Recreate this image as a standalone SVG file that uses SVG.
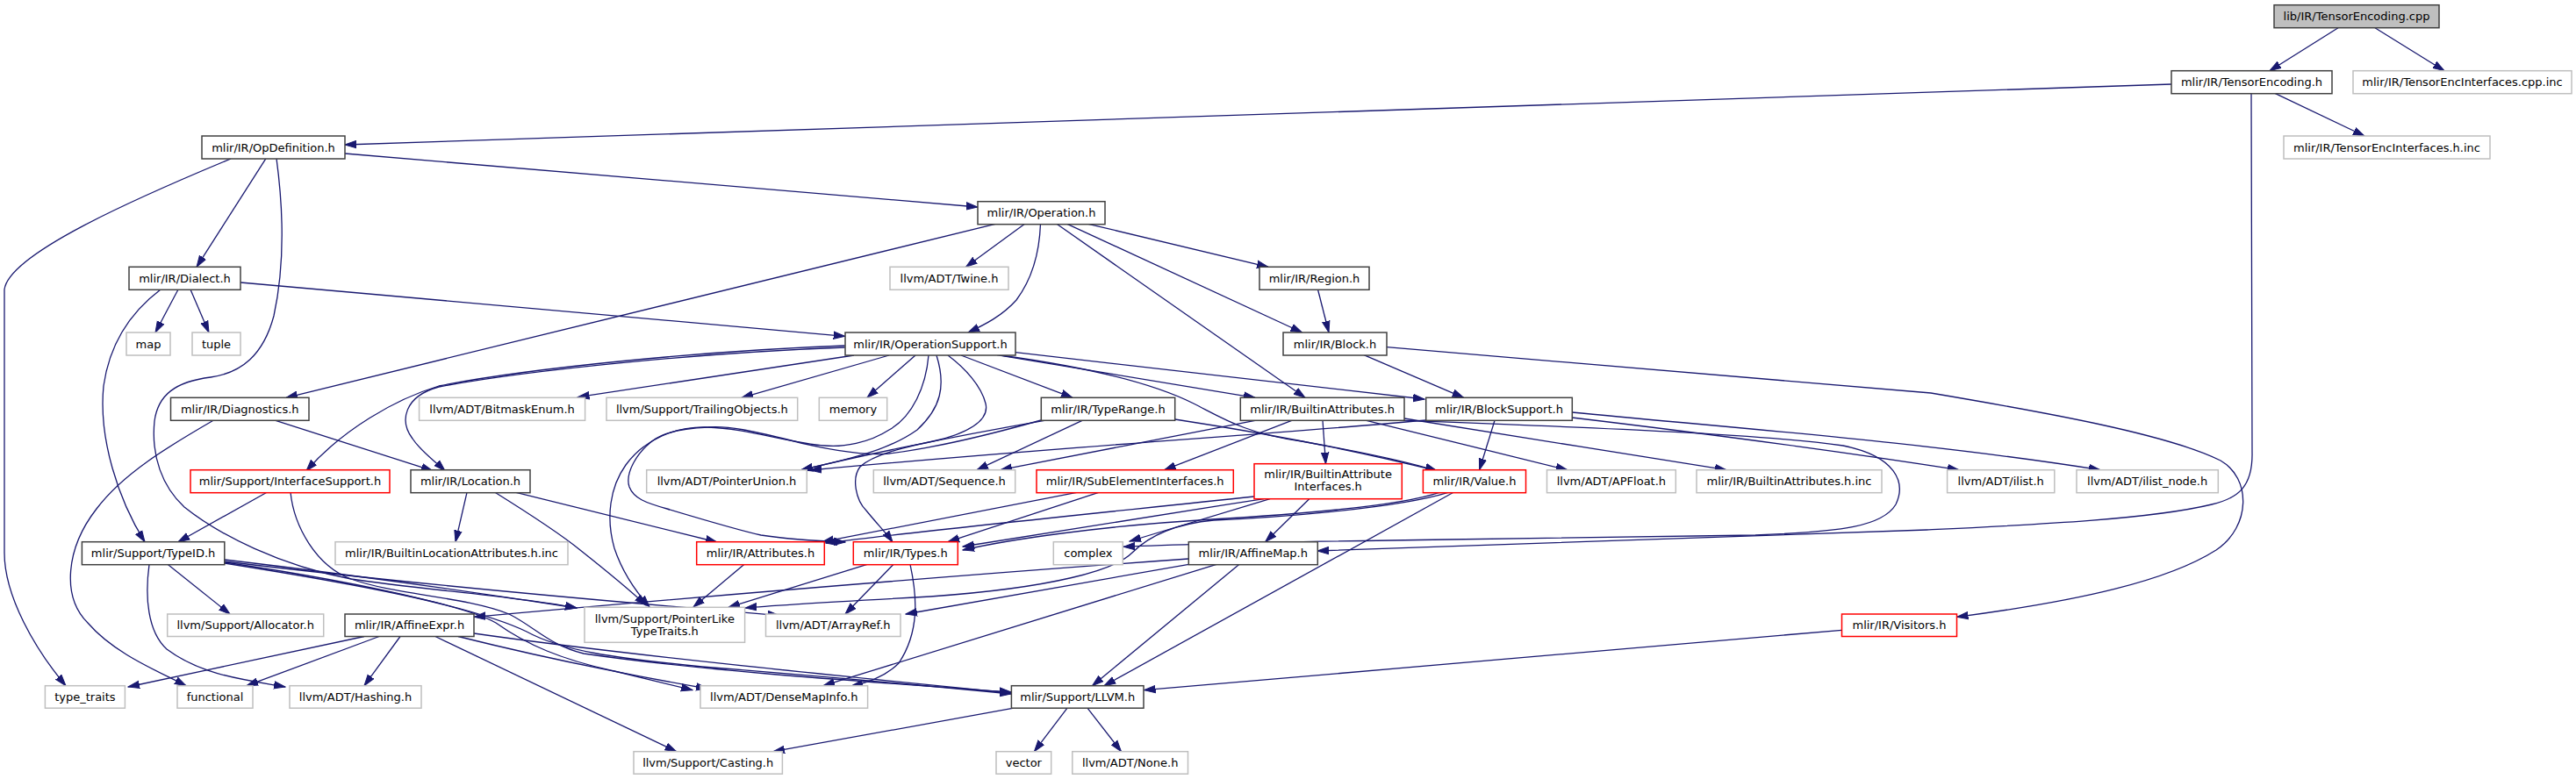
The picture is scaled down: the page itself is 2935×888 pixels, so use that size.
<svg xmlns="http://www.w3.org/2000/svg" width="2935" height="888" viewBox="0 0 2935 888">
<defs>
<marker id="a" markerWidth="14" markerHeight="10" refX="13" refY="5" orient="auto" markerUnits="userSpaceOnUse"><path d="M0,0.8 L13,5 L0,9.2 z" fill="#191970" stroke="#191970" stroke-width="1"/></marker>
</defs>
<style>
rect{fill:#fff;stroke:#404040;stroke-width:1.5}
.g rect{stroke:#bfbfbf}
.r rect{stroke:#ff0000}
.root rect{fill:#bfbfbf}
text{font-family:"DejaVu Sans",Verdana,sans-serif;font-size:13px;text-anchor:middle;fill:#000}
#edges path{fill:none;stroke:#191970;stroke-width:1.3;marker-end:url(#a)}
</style>
<rect x="0" y="0" width="2935" height="888" style="fill:#fff;stroke:none"/>
<g id="edges">
<path d="M2664,31.7 L2586,80.7"/>
<path d="M2706,31.7 L2785,80.7"/>
<path d="M2474,96 L393,165"/>
<path d="M2592,106.3 L2694,155"/>
<path d="M2565,106.3 L2566,515 C2567,555 2550,568 2520,575 C2450,592 2320,598 2195,604 L1501,628"/>
<path d="M393,175 L1114,236"/>
<path d="M303,180.7 L224,304.3"/>
<path d="M263,181 C150,228 10,290 5,330 L5,630 C5,680 40,740 75,781.7"/>
<path d="M315,180.7 C323,240 325,300 312,360 C300,405 275,425 240,430 C200,435 180,450 176,480 C172,520 185,555 210,578 C250,610 320,645 400,660 C480,672 590,680 657,693"/>
<path d="M274,322 L962.7,383.3"/>
<path d="M183,330 C150,355 125,390 118,440 C112,500 135,570 165,617.7"/>
<path d="M203,330 L177,379"/>
<path d="M217,330 L238,379"/>
<path d="M1134,255.3 L326,453.3"/>
<path d="M1167.5,255.3 L1100.5,304.3"/>
<path d="M1185.5,255.3 C1184,295 1173,322 1158,342 C1142,360 1122,370 1103,379"/>
<path d="M1240,255.3 L1445,304.3"/>
<path d="M1216,255.3 L1483.6,379"/>
<path d="M1204,255.3 L1487,453.3"/>
<path d="M1501.5,330 L1514,379"/>
<path d="M1554,404.7 L1667.7,453.3"/>
<path d="M1580,395.7 L2200,448 C2330,470 2470,495 2530,525 C2565,545 2565,600 2525,627 C2470,662 2370,685 2229.5,703.3"/>
<path d="M2098.5,718.3 L1303.5,786.7"/>
<path d="M1216,807.2 L1178.4,856.7"/>
<path d="M1239,807.2 L1277.5,856.7"/>
<path d="M1155,807.2 L881,856.7"/>
<path d="M962.7,394 C800,400 600,420 500,440 C450,455 390,490 349,536.7"/>
<path d="M962.7,396 C800,402 600,422 500,441 C460,452 455,480 470,500 C480,515 495,525 507,536.7"/>
<path d="M973,405 L658.4,452.7"/>
<path d="M1013,405 L845,453.3"/>
<path d="M1043,405 L988,453.3"/>
<path d="M1058,405 C1055,440 1040,475 1013,490 C990,505 960,510 940,508 C900,505 850,488 806,487 C770,486 735,500 713,530 C695,555 690,590 700,625 C710,655 725,675 740,691.7"/>
<path d="M1067,405 C1078,440 1072,465 1045,490 C1010,515 960,525 913,535.7"/>
<path d="M1080,405 C1100,420 1118,440 1123,460 C1128,480 1100,495 1063,503 C1030,510 995,518 980,532 C970,545 975,570 987,582 C1000,598 1010,608 1017,618"/>
<path d="M1095,405 L1222,453.3"/>
<path d="M1157,401.7 L1623,455"/>
<path d="M1136,404.7 L1430,453.3"/>
<path d="M1140,405 C1250,420 1320,440 1360,460 C1390,475 1420,495 1483,503 C1550,515 1600,525 1637,536.7"/>
<path d="M1338.7,478 C1450,495 1550,515 1637,536.7"/>
<path d="M1190,479.3 C1100,495 1000,515 913,535.7"/>
<path d="M1233,479.3 L1113,535.7"/>
<path d="M1186,479 C1140,492 1070,510 1013,517 C980,520 930,510 893,500 C860,492 830,485 807,487 C780,488 760,492 747,500 C725,515 712,540 717,555 C722,568 735,573 760,580 C800,592 840,604 867,610 C900,615 940,617 963,618"/>
<path d="M1430,479.3 L1140,535.7"/>
<path d="M1471.7,479.3 L1326.7,535.7"/>
<path d="M1507,479.3 L1510.5,528.7"/>
<path d="M1556.8,479.3 L1785.7,535.7"/>
<path d="M1600,477 L1967,535.7"/>
<path d="M1600,479.3 C1800,487 2000,494 2100,508 C2160,520 2172,550 2160,575 C2145,600 2100,606 2000,610 L1650,615 C1500,617 1350,620 1280,623.3"/>
<path d="M1703,479.3 L1685.6,535.7"/>
<path d="M1624.7,479 C1450,495 1200,510 923,536"/>
<path d="M1791,476 C1950,495 2100,515 2232,535.7"/>
<path d="M1791,470 C2000,490 2200,505 2393,535.7"/>
<path d="M1226.7,561.3 L937,617.7"/>
<path d="M1251.7,561.3 L1080,617.7"/>
<path d="M1429,566 C1250,585 1050,605 941,619"/>
<path d="M1440,568.7 C1300,590 1150,615 1097,623"/>
<path d="M1447,568.7 L1287,617"/>
<path d="M1491.7,568.7 L1441.7,617.7"/>
<path d="M1640,561.3 C1600,575 1500,585 1380,592 C1250,600 1150,615 1097,627"/>
<path d="M1650,561.3 C1590,580 1450,590 1383,593 C1340,597 1310,610 1290,630 C1270,650 1200,670 1060,680 C950,686 880,690 849,693"/>
<path d="M1656,561.3 L1258,781.7"/>
<path d="M532,561.3 L519,617.7"/>
<path d="M564,561.3 C610,590 640,610 661,627 C690,650 715,670 736,690"/>
<path d="M588,561.3 L817,618"/>
<path d="M243,479.3 C190,510 140,540 110,580 C75,625 70,680 100,710 C130,745 180,765 212,781.7"/>
<path d="M314,479.3 L493,536.7"/>
<path d="M304,561.3 L203,617.7"/>
<path d="M331,561.3 C335,600 360,645 400,660 C450,678 530,680 580,700 C610,715 625,735 665,745 C800,765 1000,778 1152,789"/>
<path d="M191,643.3 L262,700"/>
<path d="M170,643.3 C165,680 168,720 190,740 C230,770 280,775 325,783"/>
<path d="M256,638 C400,655 560,678 657,693"/>
<path d="M256,640 C420,660 650,682 888,701.6"/>
<path d="M256,641 C440,668 560,700 600,720 C640,742 700,750 800,760 C950,772 1060,782 1152,791"/>
<path d="M256,642 C420,668 530,690 565,710 C600,735 640,752 700,765 L789,786.7"/>
<path d="M415,725.5 L146,783"/>
<path d="M432,725.5 L281,781.7"/>
<path d="M456,725.5 L415,781.7"/>
<path d="M540,722 C700,745 950,770 1152,790"/>
<path d="M522,725.5 C620,750 720,770 806,785"/>
<path d="M496,725.5 L770.7,856.7"/>
<path d="M1354.3,637 C1100,655 800,680 540,703.3"/>
<path d="M1354.4,643.3 L1032,700"/>
<path d="M1386,643.3 L938,781.7"/>
<path d="M1412,643.3 L1244.5,781.7"/>
<path d="M848,643.3 L790,692"/>
<path d="M988,643.3 L830,692.3"/>
<path d="M1018,643.3 L963,700"/>
<path d="M1037,643.3 C1045,680 1048,720 1024,756 C1010,770 990,778 970,782"/>
</g>
<g id="n_cpp" class="root"><rect x="2591" y="5.7" width="188" height="26"/><text x="2685" y="23.2">lib/IR/TensorEncoding.cpp</text></g>
<g id="n_tenc"><rect x="2474" y="80.7" width="183" height="26"/><text x="2565.5" y="98.2">mlir/IR/TensorEncoding.h</text></g>
<g id="n_tecppinc" class="g"><rect x="2681" y="80.7" width="249" height="26"/><text x="2805.5" y="98.2">mlir/IR/TensorEncInterfaces.cpp.inc</text></g>
<g id="n_opdef"><rect x="230" y="155" width="163" height="26"/><text x="311.5" y="172.5">mlir/IR/OpDefinition.h</text></g>
<g id="n_tehinc" class="g"><rect x="2602" y="155" width="235" height="26"/><text x="2719.5" y="172.5">mlir/IR/TensorEncInterfaces.h.inc</text></g>
<g id="n_op"><rect x="1114" y="229.7" width="145" height="26"/><text x="1186.5" y="247.2">mlir/IR/Operation.h</text></g>
<g id="n_dialect"><rect x="147" y="304.3" width="127" height="26"/><text x="210.5" y="321.8">mlir/IR/Dialect.h</text></g>
<g id="n_twine" class="g"><rect x="1014" y="304.3" width="135" height="26"/><text x="1081.5" y="321.8">llvm/ADT/Twine.h</text></g>
<g id="n_region"><rect x="1435" y="304.3" width="125" height="26"/><text x="1497.5" y="321.8">mlir/IR/Region.h</text></g>
<g id="n_map" class="g"><rect x="144" y="379" width="50" height="26"/><text x="169" y="396.5">map</text></g>
<g id="n_tuple" class="g"><rect x="219" y="379" width="55" height="26"/><text x="246.5" y="396.5">tuple</text></g>
<g id="n_opsup"><rect x="963" y="379" width="194" height="26"/><text x="1060" y="396.5">mlir/IR/OperationSupport.h</text></g>
<g id="n_block"><rect x="1462" y="379" width="118" height="26"/><text x="1521" y="396.5">mlir/IR/Block.h</text></g>
<g id="n_diag"><rect x="194.5" y="453.3" width="157.5" height="26"/><text x="273.25" y="470.8">mlir/IR/Diagnostics.h</text></g>
<g id="n_bitmask" class="g"><rect x="477.6" y="453.3" width="189" height="26"/><text x="572.1" y="470.8">llvm/ADT/BitmaskEnum.h</text></g>
<g id="n_trailing" class="g"><rect x="691" y="453.3" width="217.7" height="26"/><text x="799.85" y="470.8">llvm/Support/TrailingObjects.h</text></g>
<g id="n_memory" class="g"><rect x="933.3" y="453.3" width="77.4" height="26"/><text x="972" y="470.8">memory</text></g>
<g id="n_typerange"><rect x="1186.3" y="453.3" width="152.4" height="26"/><text x="1262.5" y="470.8">mlir/IR/TypeRange.h</text></g>
<g id="n_battr"><rect x="1413.3" y="453.3" width="186.7" height="26"/><text x="1506.65" y="470.8">mlir/IR/BuiltinAttributes.h</text></g>
<g id="n_blocksup"><rect x="1624.7" y="453.3" width="166.6" height="26"/><text x="1708" y="470.8">mlir/IR/BlockSupport.h</text></g>
<g id="n_iface" class="r"><rect x="217" y="535.7" width="227" height="26"/><text x="330.5" y="553.2">mlir/Support/InterfaceSupport.h</text></g>
<g id="n_loc"><rect x="468" y="535.7" width="136" height="26"/><text x="536" y="553.2">mlir/IR/Location.h</text></g>
<g id="n_punion" class="g"><rect x="736.7" y="535.7" width="182.6" height="26"/><text x="828" y="553.2">llvm/ADT/PointerUnion.h</text></g>
<g id="n_seq" class="g"><rect x="995.3" y="535.7" width="161.4" height="26"/><text x="1076" y="553.2">llvm/ADT/Sequence.h</text></g>
<g id="n_subelem" class="r"><rect x="1181" y="535.7" width="224.3" height="26"/><text x="1293.15" y="553.2">mlir/IR/SubElementInterfaces.h</text></g>
<g id="n_baiface" class="r"><rect x="1429" y="528.7" width="168.3" height="40"/><text x="1513.15" y="544.5">mlir/IR/BuiltinAttribute</text><text x="1513.15" y="558.5">Interfaces.h</text></g>
<g id="n_value" class="r"><rect x="1621.4" y="535.7" width="117.1" height="26"/><text x="1680" y="553.2">mlir/IR/Value.h</text></g>
<g id="n_apfloat" class="g"><rect x="1762.5" y="535.7" width="146.8" height="26"/><text x="1835.9" y="553.2">llvm/ADT/APFloat.h</text></g>
<g id="n_bainc" class="g"><rect x="1933" y="535.7" width="211" height="26"/><text x="2038.5" y="553.2">mlir/IR/BuiltinAttributes.h.inc</text></g>
<g id="n_ilist" class="g"><rect x="2218.6" y="535.7" width="122.2" height="26"/><text x="2279.7" y="553.2">llvm/ADT/ilist.h</text></g>
<g id="n_ilistnode" class="g"><rect x="2366" y="535.7" width="161.3" height="26"/><text x="2446.65" y="553.2">llvm/ADT/ilist_node.h</text></g>
<g id="n_typeid"><rect x="93.4" y="617.7" width="162.4" height="26"/><text x="174.6" y="635.2">mlir/Support/TypeID.h</text></g>
<g id="n_blocinc" class="g"><rect x="382" y="617.7" width="265" height="26"/><text x="514.5" y="635.2">mlir/IR/BuiltinLocationAttributes.h.inc</text></g>
<g id="n_attrs" class="r"><rect x="793.7" y="617.7" width="145.6" height="26"/><text x="866.5" y="635.2">mlir/IR/Attributes.h</text></g>
<g id="n_types" class="r"><rect x="972.3" y="617.7" width="119" height="26"/><text x="1031.8" y="635.2">mlir/IR/Types.h</text></g>
<g id="n_complex" class="g"><rect x="1200.3" y="617.7" width="79" height="26"/><text x="1239.8" y="635.2">complex</text></g>
<g id="n_affmap"><rect x="1354.3" y="617.7" width="147" height="26"/><text x="1427.8" y="635.2">mlir/IR/AffineMap.h</text></g>
<g id="n_alloc" class="g"><rect x="190.7" y="700" width="178" height="25.5"/><text x="279.7" y="717.2">llvm/Support/Allocator.h</text></g>
<g id="n_affexpr"><rect x="393" y="700" width="147" height="25.5"/><text x="466.5" y="717.2">mlir/IR/AffineExpr.h</text></g>
<g id="n_ptrlike" class="g"><rect x="666" y="692.3" width="182.6" height="40"/><text x="757.3" y="709.5">llvm/Support/PointerLike</text><text x="757.3" y="723.5">TypeTraits.h</text></g>
<g id="n_arrayref" class="g"><rect x="872.5" y="700" width="153.5" height="25.5"/><text x="949.25" y="717.2">llvm/ADT/ArrayRef.h</text></g>
<g id="n_visitors" class="r"><rect x="2098.5" y="700" width="131" height="25.5"/><text x="2164" y="717.2">mlir/IR/Visitors.h</text></g>
<g id="n_typetraits" class="g"><rect x="51.4" y="781.7" width="91" height="25.5"/><text x="96.9" y="798.9">type_traits</text></g>
<g id="n_functional" class="g"><rect x="202" y="781.7" width="86" height="25.5"/><text x="245" y="798.9">functional</text></g>
<g id="n_hashing" class="g"><rect x="330" y="781.7" width="150" height="25.5"/><text x="405" y="798.9">llvm/ADT/Hashing.h</text></g>
<g id="n_densemap" class="g"><rect x="798" y="781.7" width="190.6" height="25.5"/><text x="893.3" y="798.9">llvm/ADT/DenseMapInfo.h</text></g>
<g id="n_llvm"><rect x="1152.4" y="781.7" width="150.6" height="25.5"/><text x="1227.7" y="798.9">mlir/Support/LLVM.h</text></g>
<g id="n_casting" class="g"><rect x="722" y="856.7" width="169.4" height="25.5"/><text x="806.7" y="873.9">llvm/Support/Casting.h</text></g>
<g id="n_vector" class="g"><rect x="1135" y="856.7" width="62.7" height="25.5"/><text x="1166.35" y="873.9">vector</text></g>
<g id="n_none" class="g"><rect x="1221.8" y="856.7" width="131.7" height="25.5"/><text x="1287.65" y="873.9">llvm/ADT/None.h</text></g>
</svg>
